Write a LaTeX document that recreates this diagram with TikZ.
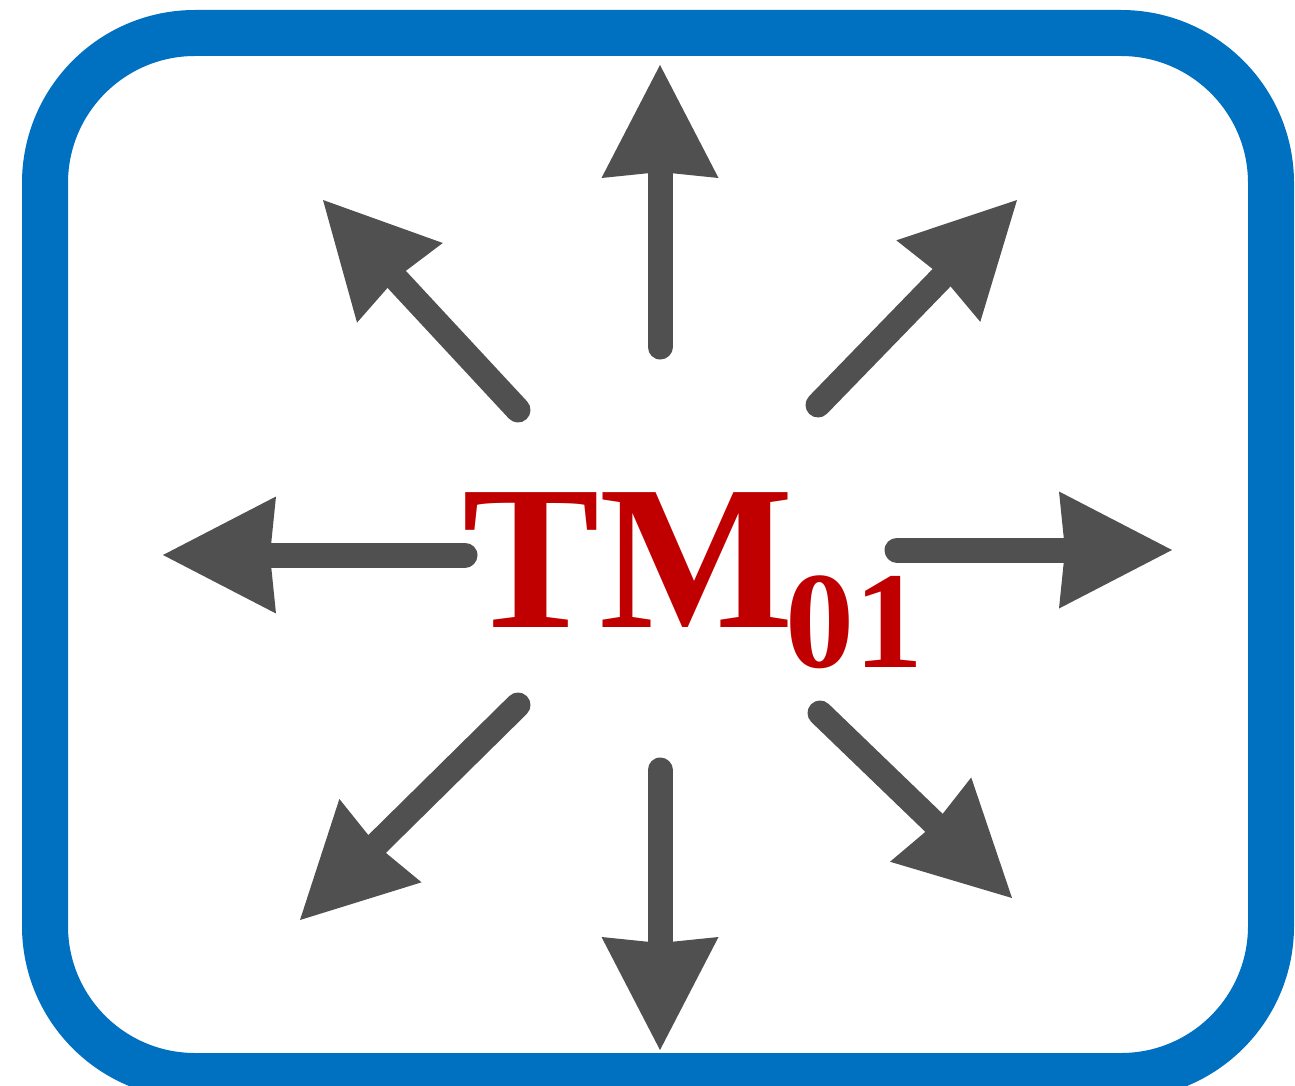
\documentclass[tikz,border=0pt]{standalone}
\usepackage{fontspec}
\setmainfont{Liberation Serif}
\usetikzlibrary{arrows.meta}
\definecolor{frameblue}{HTML}{0070C0}
\definecolor{raygrey}{HTML}{505050}
\definecolor{labelred}{HTML}{C00000}
\tikzset{
  frame/.style={draw=frameblue, line width=46pt, rounded corners=150pt},
  ray/.style={draw=raygrey, line width=25pt, line cap=round,
    -{Stealth[length=113pt,width=117pt,inset=6pt,line width=0pt]}},
  modelabel/.style={text=labelred, inner sep=0pt, anchor=base west,
    font=\bfseries\fontsize{206}{240}\selectfont}
}
\begin{document}
\begin{tikzpicture}[x=1pt,y=-1pt]
\useasboundingbox (0,0) rectangle (1295,1086);
\fill[white] (0,0) rectangle (1295,1086);
\draw[frame] (45,33) rectangle (1271,1076);
\node[modelabel] (lbl) at (462,627) {TM\kern-9pt\raisebox{-40pt}{\fontsize{138}{160}\selectfont 01}};
% ray start and end points
\coordinate (nS) at (660,347);  \coordinate (nE) at (660,65);
\coordinate (sS) at (660,770);  \coordinate (sE) at (660,1050);
\coordinate (wS) at (465,555);  \coordinate (wE) at (163,555);
\coordinate (eS) at (897,550);  \coordinate (eE) at (1172,550);
\coordinate (nwS) at (518,410); \coordinate (nwE) at (323,200);
\coordinate (neS) at (818,405); \coordinate (neE) at (1017,200);
\coordinate (seS) at (820,713); \coordinate (seE) at (1012,898);
\coordinate (swS) at (518,705); \coordinate (swE) at (300,920);
\draw[ray] (nS) -- (nE);
\draw[ray] (sS) -- (sE);
\draw[ray] (wS) -- (wE);
\draw[ray] (eS) -- (eE);
\draw[ray] (nwS) -- (nwE);
\draw[ray] (neS) -- (neE);
\draw[ray] (seS) -- (seE);
\draw[ray] (swS) -- (swE);
\end{tikzpicture}
\end{document}
